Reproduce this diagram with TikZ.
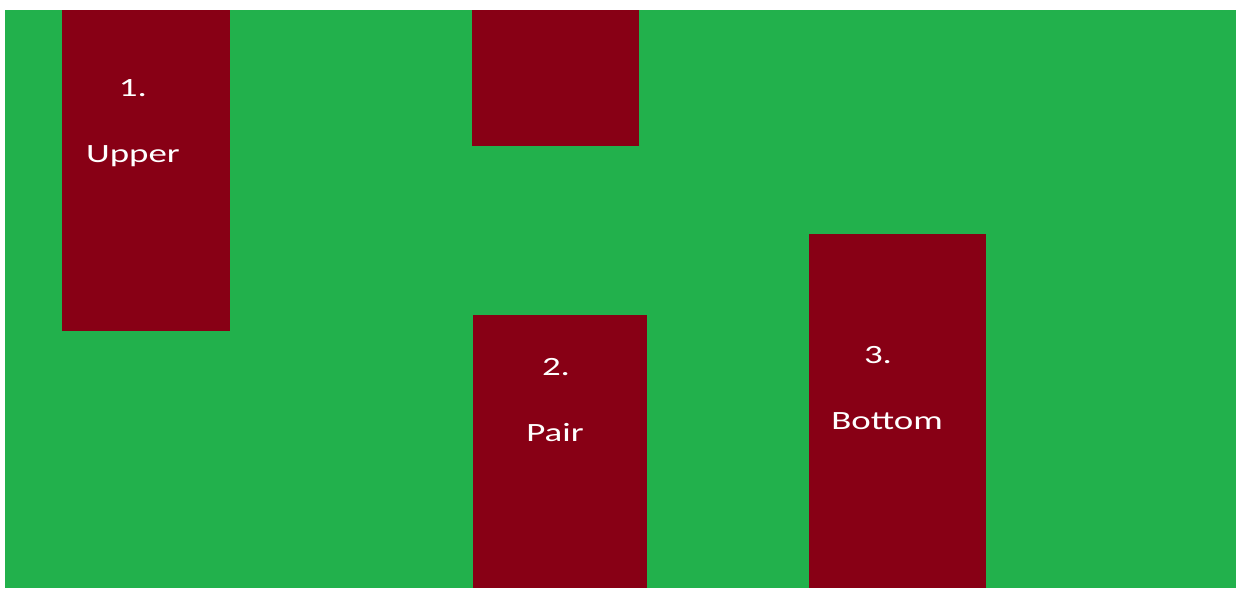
\documentclass[tikz,border=0pt]{standalone}
\usepackage{fontspec}
\setmainfont{Carlito}[FakeStretch=1.4]
\definecolor{grass}{RGB}{34,177,76}
\definecolor{wine}{RGB}{136,0,21}
\begin{document}
\begin{tikzpicture}[x=0.02cm,y=0.02cm,
    block/.style={fill=wine},
    lbl/.style={text=white,inner sep=0pt,font=\fontsize{15}{18}\selectfont}]
			\useasboundingbox (0,0) rectangle (1236,588);
			\fill[grass] (5,0) rectangle (1236,578);
			\fill[block] (62,257) rectangle (230,578);
			\fill[block] (472,442) rectangle (639,578);
			\fill[block] (473,0) rectangle (647,273);
			\fill[block] (809,0) rectangle (986,354);
			\node[lbl] (n1) at (133,500) {1.};
			\node[lbl] (w1) at (133,432) {Upper};
			\node[lbl] (n2) at (556,221) {2.};
			\node[lbl] (w2) at (555,155) {Pair};
			\node[lbl] (n3) at (878,233) {3.};
			\node[lbl] (w3) at (887,167) {Bottom};
		\end{tikzpicture}
\end{document}
